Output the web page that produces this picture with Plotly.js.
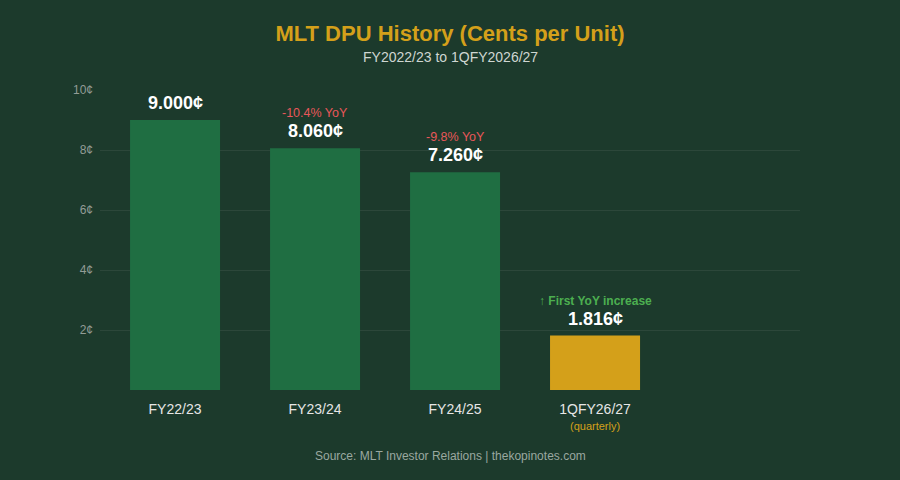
<!DOCTYPE html>
<html>
<head>
<meta charset="utf-8">
<script src="https://cdn.plot.ly/plotly-3.0.1.min.js"></script>
<style>
  html, body { margin: 0; padding: 0; background: #1c3a2c; }
  #chart { width: 900px; height: 480px; }
</style>
</head>
<body>
<div id="chart"></div>
<script>
// ── Data ─────────────────────────────────────────────
const periods = ['FY22/23', 'FY23/24', 'FY24/25', '1QFY26/27'];
const dpu = [9.0, 8.06, 7.26, 1.816];
const dpuLabels = ['9.000¢', '8.060¢', '7.260¢', '1.816¢'];
const notes = ['', '-10.4% YoY', '-9.8% YoY', '↑ First YoY increase'];
const yTicks = [2, 4, 6, 8, 10];
const yTickText = ['2¢', '4¢', '6¢', '8¢', '10¢'];

const C = {
  bg: '#1c3a2c',
  bar: '#1f6e42',
  gold: '#d4a01a',
  grid: 'rgba(255,255,255,0.07)',
  tick: '#929c96',
  red: '#e8575a',
  green: '#4caf50',
  text: '#e6e6e6',
  muted: '#9aa8a0',
};
const FONT = 'Liberation Sans, Arial, Helvetica, sans-serif';

const barColors = periods.map((p, i) => i === periods.length - 1 ? C.gold : C.bar);

const trace = {
  type: 'bar',
  x: periods,
  y: dpu,
  marker: { color: barColors, line: { width: 0 } },
  hoverinfo: 'skip',
};

const annotations = [];
periods.forEach((p, i) => {
  annotations.push({
    x: p, y: dpu[i], xref: 'x', yref: 'y',
    text: '<b>' + dpuLabels[i] + '</b>',
    showarrow: false, yanchor: 'bottom', yshift: 5,
    font: { family: FONT, size: 18, color: '#ffffff' },
  });
  if (notes[i]) {
    const up = i === periods.length - 1;
    annotations.push({
      x: p, y: dpu[i], xref: 'x', yref: 'y',
      text: up ? '<b>' + notes[i] + '</b>' : notes[i],
      showarrow: false, yanchor: 'bottom', yshift: 26,
      font: { family: FONT, size: up ? 12 : 12.5, color: up ? C.green : C.red },
    });
  }
});

// sub-label under the last category
annotations.push({
  x: periods[periods.length - 1], y: 0, xref: 'x', yref: 'paper',
  text: '(quarterly)', showarrow: false, yanchor: 'top', yshift: -28,
  font: { family: FONT, size: 11, color: C.gold },
});

// source line
annotations.push({
  x: 0.5, y: 0, xref: 'paper', yref: 'paper',
  text: 'Source: MLT Investor Relations | thekopinotes.com',
  showarrow: false, yanchor: 'middle', yshift: -66,
  font: { family: FONT, size: 12, color: C.muted },
});

// subtitle
annotations.push({
  x: 0.5, y: 1, xref: 'paper', yref: 'paper',
  xanchor: 'center', text: 'FY2022/23 to 1QFY2026/27',
  showarrow: false, yanchor: 'middle', yshift: 33,
  font: { family: FONT, size: 14, color: '#cfd6d2' },
});

const layout = {
  width: 900,
  height: 480,
  paper_bgcolor: C.bg,
  plot_bgcolor: C.bg,
  font: { family: FONT, color: C.text },
  margin: { l: 100, r: 100, t: 90, b: 90 },
  title: {
    text: '<b>MLT DPU History (Cents per Unit)</b>',
    x: 0.5, xanchor: 'center',
    y: 0.931, yanchor: 'middle',
    font: { family: FONT, size: 22, color: C.gold },
  },
  bargap: 0.357,
  showlegend: false,
  xaxis: {
    type: 'category',
    range: [-0.536, 4.464],
    showgrid: false,
    zeroline: false,
    showline: false,
    ticks: '',
    ticklabelstandoff: 9,
    tickfont: { family: FONT, size: 14, color: C.text },
  },
  yaxis: {
    range: [0, 10],
    tickvals: yTicks,
    ticktext: yTickText,
    gridcolor: C.grid,
    gridwidth: 1,
    zeroline: false,
    showline: false,
    ticks: '',
    ticklabelstandoff: 6,
    tickfont: { family: FONT, size: 12, color: C.tick },
  },
  annotations,
};

Plotly.newPlot('chart', [trace], layout, { displayModeBar: false, staticPlot: true });
</script>
</body>
</html>
